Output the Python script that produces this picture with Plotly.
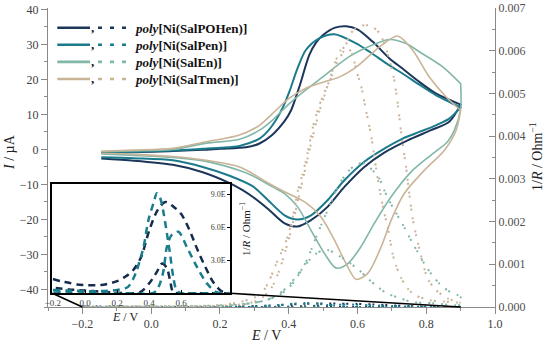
import plotly.graph_objects as go

# ---------------- data ----------------
# Cyclic voltammograms, I / µA  (anodic: E increasing, cathodic: E decreasing)
E_pohen_an = [-0.145, -0.05, 0.05, 0.15, 0.2, 0.276, 0.315, 0.35, 0.39, 0.407, 0.431, 0.46, 0.48, 0.5, 0.535, 0.567, 0.6, 0.644, 0.693, 0.731, 0.78, 0.828, 0.9]
I_pohen_an = [-1.0, -0.8, -0.5, -0.1, 0.2, 0.6, 1.7, 4.0, 8.4, 11.2, 17.9, 27.0, 30.6, 32.7, 34.8, 35.2, 34.3, 30.8, 26.0, 23.1, 19.3, 16.0, 12.8]
E_pohen_ca = [0.9, 0.867, 0.814, 0.746, 0.678, 0.62, 0.562, 0.513, 0.465, 0.426, 0.388, 0.34, 0.295, 0.266, 0.228, 0.15, 0.063, -0.05, -0.145]
I_pohen_ca = [12.8, 7.9, 5.5, 2.6, -0.9, -5.0, -10.7, -16.4, -20.2, -22.0, -21.1, -17.0, -13.5, -11.6, -9.6, -6.5, -4.4, -3.2, -2.6]

E_pen_an = [-0.145, -0.05, 0.063, 0.15, 0.2, 0.257, 0.315, 0.34, 0.363, 0.383, 0.402, 0.425, 0.45, 0.489, 0.533, 0.596, 0.635, 0.693, 0.731, 0.78, 0.828, 0.9]
I_pen_an = [-0.9, -0.7, -0.3, 0.2, 0.5, 1.0, 3.1, 5.3, 8.4, 12.0, 16.5, 23.0, 28.4, 31.7, 32.9, 30.3, 27.9, 24.0, 21.7, 18.5, 15.5, 12.0]
E_pen_ca = [0.9, 0.867, 0.828, 0.78, 0.731, 0.683, 0.62, 0.562, 0.513, 0.465, 0.426, 0.388, 0.34, 0.295, 0.228, 0.15, 0.063, -0.05, -0.145]
I_pen_ca = [12.0, 8.8, 6.9, 5.0, 3.1, 0.5, -3.5, -8.8, -14.5, -18.8, -20.0, -18.8, -14.5, -10.5, -7.5, -5.0, -3.1, -2.5, -2.2]

E_en_an = [-0.145, -0.05, 0.063, 0.16, 0.257, 0.315, 0.353, 0.402, 0.45, 0.499, 0.576, 0.644, 0.693, 0.74, 0.78, 0.848, 0.9]
I_en_an = [-0.6, -0.4, 0.0, 1.8, 2.9, 5.5, 8.4, 13.1, 17.0, 20.7, 26.5, 29.8, 31.4, 30.3, 27.9, 23.6, 18.8]
E_en_ca = [0.9, 0.9, 0.882, 0.862, 0.814, 0.756, 0.698, 0.649, 0.61, 0.572, 0.538, 0.504, 0.465, 0.426, 0.388, 0.353, 0.295, 0.257, 0.16, 0.063, -0.05, -0.145]
I_en_ca = [18.8, 11.5, 5.5, 2.2, -1.6, -6.4, -13.5, -21.1, -27.8, -32.6, -33.9, -29.7, -23.1, -16.4, -12.6, -10.7, -7.5, -6.0, -3.4, -2.3, -1.7, -1.3]

E_tmen_an = [-0.145, -0.05, 0.063, 0.16, 0.257, 0.315, 0.363, 0.4, 0.45, 0.5, 0.55, 0.6, 0.664, 0.717, 0.76, 0.809, 0.858, 0.9]
I_tmen_an = [-0.5, -0.2, 0.3, 2.2, 4.1, 6.9, 11.2, 14.5, 17.5, 19.2, 20.8, 23.8, 29.3, 32.4, 28.4, 20.7, 15.0, 11.2]
E_tmen_ca = [0.9, 0.887, 0.853, 0.795, 0.736, 0.698, 0.669, 0.63, 0.596, 0.567, 0.533, 0.494, 0.446, 0.388, 0.344, 0.295, 0.257, 0.16, 0.063, -0.05, -0.145]
I_tmen_ca = [11.2, 5.5, -0.2, -5.9, -12.6, -20.2, -27.8, -35.4, -37.1, -32.6, -25.9, -19.3, -15.0, -12.1, -9.8, -6.9, -5.0, -3.1, -2.0, -1.4, -1.1]

# In-situ conductance 1/R / Ohm^-1 (right axis), SalEn and SalTmen
E_tmen_g_f = [-0.2, 0.0, 0.2, 0.26, 0.3, 0.324, 0.344, 0.363, 0.38, 0.397, 0.411, 0.426, 0.44, 0.455, 0.47, 0.484, 0.5, 0.52, 0.54, 0.56, 0.58, 0.6, 0.625, 0.645, 0.665, 0.685, 0.705, 0.718, 0.73, 0.741, 0.75, 0.76, 0.77, 0.785, 0.804, 0.828, 0.862, 0.9]
G_tmen_g_f = [0.0, 0.00001, 0.00004, 0.00012, 0.00022, 0.00035, 0.00063, 0.001, 0.0013, 0.00165, 0.00207, 0.0027, 0.0031, 0.0036, 0.0042, 0.0046, 0.00495, 0.0053, 0.0057, 0.006, 0.0064, 0.00655, 0.0066, 0.00655, 0.0064, 0.006, 0.0054, 0.0047, 0.0039, 0.0033, 0.0027, 0.0021, 0.0017, 0.0012, 0.00067, 0.0004, 0.0002, 0.0001]
E_tmen_g_b = [0.9, 0.85, 0.81, 0.77, 0.746, 0.726, 0.711, 0.702, 0.695, 0.688, 0.678, 0.668, 0.655, 0.64, 0.625, 0.61, 0.598, 0.585, 0.57, 0.55, 0.53, 0.51, 0.49, 0.47, 0.45, 0.43, 0.41, 0.39, 0.37, 0.35, 0.32, 0.28, 0.2, 0.0, -0.2]
G_tmen_g_b = [0.0001, 0.00013, 0.00016, 0.00027, 0.00043, 0.0007, 0.001, 0.00125, 0.00156, 0.00187, 0.0022, 0.0026, 0.0032, 0.004, 0.0046, 0.0052, 0.0055, 0.0059, 0.0061, 0.006, 0.0056, 0.0051, 0.0046, 0.004, 0.0033, 0.0026, 0.0019, 0.0013, 0.0008, 0.00045, 0.0002, 0.00008, 0.00003, 0.00001, 0.0]

E_en_g_f = [-0.2, 0.0, 0.2, 0.3, 0.35, 0.38, 0.407, 0.431, 0.45, 0.465, 0.48, 0.494, 0.509, 0.525, 0.538, 0.557, 0.576, 0.598, 0.62, 0.644, 0.664, 0.678, 0.697, 0.716, 0.736, 0.756, 0.775, 0.794, 0.814, 0.838, 0.862, 0.9]
G_en_g_f = [0.0, 0.00001, 0.00004, 0.0001, 0.0002, 0.00032, 0.00051, 0.00078, 0.00105, 0.00133, 0.00164, 0.00191, 0.00219, 0.00248, 0.00273, 0.003, 0.0032, 0.00334, 0.00336, 0.0032, 0.003, 0.00273, 0.00242, 0.00215, 0.00187, 0.00156, 0.00129, 0.00102, 0.00078, 0.00055, 0.00039, 0.00023]
E_en_g_b = [0.9, 0.82, 0.756, 0.727, 0.688, 0.659, 0.63, 0.605, 0.578, 0.552, 0.53, 0.515, 0.5, 0.48, 0.46, 0.44, 0.42, 0.4, 0.37, 0.33, 0.25, 0.1, -0.2]
G_en_g_b = [0.00006, 0.00009, 0.00012, 0.0002, 0.00031, 0.00047, 0.00067, 0.00086, 0.00103, 0.00117, 0.00128, 0.00133, 0.00133, 0.00125, 0.0011, 0.0009, 0.0007, 0.0005, 0.0003, 0.00015, 0.00005, 0.00001, 0.0]

# Conductance of SalPOHen and SalPen (inset), in units of 1e-5 Ohm^-1
E_pohen_g_f = [-0.2, -0.15, -0.1, -0.05, 0.0, 0.1, 0.2, 0.25, 0.3, 0.35, 0.4, 0.45, 0.5, 0.55, 0.6, 0.65, 0.7, 0.75, 0.8, 0.85, 0.9]
G_pohen_g_f = [1.3, 1.1, 0.95, 0.8, 0.75, 0.75, 1.1, 1.5, 2.1, 3.3, 5.7, 7.5, 8.3, 7.9, 7.2, 5.8, 4.0, 2.4, 1.0, 0.2, 0.0]
E_pohen_g_b = [0.9, 0.8, 0.7, 0.6, 0.55, 0.53, 0.51, 0.48, 0.45, 0.42, 0.4, 0.37, 0.35, 0.3, 0.2, 0.1, 0.0, -0.1, -0.2]
G_pohen_g_b = [0.0, 0.0, 0.0, 0.0, 0.1, 1.2, 2.3, 2.7, 2.0, 1.3, 0.9, 0.4, 0.15, 0.0, 0.05, 0.15, 0.25, 0.35, 0.5]
E_pen_g_f = [-0.2, -0.1, 0.0, 0.1, 0.2, 0.25, 0.27, 0.3, 0.323, 0.35, 0.365, 0.396, 0.427, 0.448, 0.47, 0.49, 0.51, 0.53, 0.55, 0.57, 0.6, 0.7, 0.8, 0.9]
G_pen_g_f = [0.3, 0.25, 0.2, 0.2, 0.3, 0.45, 0.6, 1.3, 2.1, 3.4, 4.2, 6.7, 8.2, 9.1, 8.6, 7.3, 5.5, 3.6, 1.5, 0.3, 0.0, 0.0, 0.0, 0.0]
E_pen_g_b = [0.9, 0.82, 0.76, 0.698, 0.635, 0.583, 0.54, 0.51, 0.49, 0.47, 0.448, 0.42, 0.3, 0.2, 0.0, -0.2]
G_pen_g_b = [0.0, 0.1, 0.9, 2.4, 4.2, 5.6, 5.3, 4.2, 2.1, 1.0, 0.3, 0.0, 0.0, 0.0, 0.05, 0.1]

names = ["SalPOHen", "SalPen", "SalEn", "SalTmen"]
colors = ["#1c365a", "#1b7b8b", "#80b7a9", "#cab497"]

# axis settings
X_MAIN = [-0.3, 1.0]
Y_LEFT = [-45.0, 40.4]
Y_RIGHT = [0.0, 0.007]
X_INSET = [-0.204, 0.904]
Y_INSET = [0.0, 9.91e-5]
inset_ticks = [0.0, 3e-5, 6e-5, 9e-5]
inset_ticktext = ["0.0E", "3.0E", "6.0E", "9.0E"]

FONT = "Liberation Serif, Times New Roman, serif"
DOT = "2px,2px,2px,7px"
SCALE = 1e-5

# geometry (pixels)
W, H = 550, 345
ML, MR, MT, MB = 48, 55, 8, 38
PW, PH = W - ML - MR, H - MT - MB


def xp(px):
    return (px - ML) / PW


def yp(py):
    return (H - MB - py) / PH


fig = go.Figure()

# ---- dotted conductance in main plot (right axis) ----
cond_main = [
    (E_pohen_g_f + E_pohen_g_b, [g * SCALE for g in G_pohen_g_f + G_pohen_g_b], colors[0]),
    (E_pen_g_f + E_pen_g_b, [g * SCALE for g in G_pen_g_f + G_pen_g_b], colors[1]),
    (E_en_g_f + E_en_g_b, G_en_g_f + G_en_g_b, colors[2]),
    (E_tmen_g_f + E_tmen_g_b, G_tmen_g_f + G_tmen_g_b, colors[3]),
]
for ex, gy, c in cond_main:
    fig.add_trace(go.Scatter(x=ex, y=gy, mode="lines", xaxis="x", yaxis="y2",
                             line=dict(color=c, width=2, dash=DOT, shape="spline", smoothing=0.8),
                             showlegend=False, hoverinfo="skip"))

# ---- CV curves (left axis) ----
cv = [
    (E_pohen_an + E_pohen_ca, I_pohen_an + I_pohen_ca, colors[0], 2),
    (E_pen_an + E_pen_ca, I_pen_an + I_pen_ca, colors[1], 2),
    (E_en_an + E_en_ca, I_en_an + I_en_ca, colors[2], 1.6),
    (E_tmen_an + E_tmen_ca, I_tmen_an + I_tmen_ca, colors[3], 1.6),
]
for ex, iy, c, w in cv:
    fig.add_trace(go.Scatter(x=ex, y=iy, mode="lines", xaxis="x", yaxis="y",
                             line=dict(color=c, width=w, shape="spline", smoothing=0.8),
                             showlegend=False, hoverinfo="skip"))

# ---- inset ----
inset = [
    (E_pohen_g_f + E_pohen_g_b, [g * SCALE for g in G_pohen_g_f + G_pohen_g_b], "#152c4d"),
    (E_pen_g_f + E_pen_g_b, [g * SCALE for g in G_pen_g_f + G_pen_g_b], "#1b7d8b"),
]
for ex, gy, c in inset:
    fig.add_trace(go.Scatter(x=ex, y=gy, mode="lines", xaxis="x3", yaxis="y3",
                             line=dict(color=c, width=2.5, dash="7px,5px", shape="spline", smoothing=0.8),
                             showlegend=False, hoverinfo="skip"))

AX = "#8a8a8a"
TICKF = dict(family=FONT, size=12, color="#404040")

in_x0, in_x1 = xp(52.3), xp(230)
in_y0, in_y1 = yp(293.3), yp(184.3)

fig.update_layout(
    template="none",
    width=W, height=H,
    margin=dict(l=ML, r=MR, t=MT, b=MB, autoexpand=False),
    paper_bgcolor="white", plot_bgcolor="white",
    font=dict(family=FONT, color="#222"),
    showlegend=False,
    xaxis=dict(range=X_MAIN, domain=[0, 1], anchor="y", tick0=0, dtick=0.2, tickformat=".1f",
               ticks="outside", ticklen=6, tickcolor=AX, showline=True, linecolor=AX, linewidth=1,
               showgrid=False, zeroline=False, tickfont=TICKF, automargin=False,
               minor=dict(ticks="outside", ticklen=3, tickcolor=AX, dtick=0.1, tick0=0, showgrid=False)),
    yaxis=dict(range=Y_LEFT, domain=[0, 1], anchor="x", tick0=0, dtick=10,
               ticks="outside", ticklen=6, tickcolor=AX, showline=True, linecolor=AX, linewidth=1,
               showgrid=False, zeroline=False, tickfont=TICKF, automargin=False,
               minor=dict(ticks="outside", ticklen=3, tickcolor=AX, dtick=5, tick0=0, showgrid=False)),
    yaxis2=dict(range=Y_RIGHT, overlaying="y", side="right", anchor="x", tick0=0, dtick=0.001,
                tickformat=".3f", ticks="inside", ticklen=6, tickcolor=AX, showline=True,
                linecolor=AX, linewidth=1, showgrid=False, zeroline=False, automargin=False,
                tickfont=dict(family=FONT, size=12, color="#505050"),
                minor=dict(ticks="inside", ticklen=3, tickcolor=AX, dtick=0.0005, tick0=0, showgrid=False)),
    xaxis3=dict(range=X_INSET, domain=[in_x0, in_x1], anchor="y3",
                tickvals=[-0.2, 0.0, 0.2, 0.4, 0.6, 0.8], tickformat=".1f",
                ticks="inside", ticklen=3, tickcolor="black", showline=True, linecolor="black",
                linewidth=2, mirror=True, showgrid=False, zeroline=False, automargin=False,
                tickfont=dict(family=FONT, size=9, color="#404040")),
    yaxis3=dict(range=Y_INSET, domain=[in_y0, in_y1], anchor="x3", side="right",
                tickvals=inset_ticks, ticktext=inset_ticktext, ticks="inside", ticklen=3,
                tickcolor="black", ticklabelposition="inside", showline=True, linecolor="black",
                linewidth=2, mirror=True, showgrid=False, zeroline=False, automargin=False,
                tickfont=dict(family=FONT, size=8, color="#404040")),
)

shapes = []
# zoom connector lines from inset corners to main x axis
for e_main, x_in in ((-0.2, in_x0), (0.9, in_x1)):
    xm = (e_main - X_MAIN[0]) / (X_MAIN[1] - X_MAIN[0])
    shapes.append(dict(type="line", xref="paper", yref="paper", x0=x_in, y0=in_y0, x1=xm, y1=0,
                       line=dict(color="black", width=1.6), layer="above"))

annotations = []
# legend
for i, (n, c) in enumerate(zip(names, colors)):
    ry = 27.7 + 17.1 * i
    shapes.append(dict(type="line", xref="paper", yref="paper", x0=xp(57.3), x1=xp(90),
                       y0=yp(ry), y1=yp(ry), line=dict(color=c, width=2.6), layer="above"))
    shapes.append(dict(type="line", xref="paper", yref="paper", x0=xp(98), x1=xp(129),
                       y0=yp(ry), y1=yp(ry), line=dict(color=c, width=2.6, dash="4px,8px"), layer="above"))
    annotations.append(dict(xref="paper", yref="paper", x=xp(92.5), y=yp(ry), text="<b>,</b>",
                            showarrow=False, xanchor="center", yanchor="middle",
                            font=dict(family=FONT, size=13, color="#111")))
    annotations.append(dict(xref="paper", yref="paper", x=xp(133), y=yp(ry + 1),
                            text="<b><i>poly</i>[Ni(%s)]</b>" % n, showarrow=False,
                            xanchor="left", yanchor="middle",
                            font=dict(family=FONT, size=13, color="#111")))

# axis titles
annotations += [
    dict(xref="paper", yref="paper", x=xp(9), y=yp(152), text="<i>I</i> / µA", textangle=-90,
         showarrow=False, xanchor="center", yanchor="middle", font=dict(family=FONT, size=14, color="#222")),
    dict(xref="paper", yref="paper", x=xp(266), y=yp(335), text="<i>E</i> / V",
         showarrow=False, xanchor="center", yanchor="middle", font=dict(family=FONT, size=14, color="#222")),
    dict(xref="paper", yref="paper", x=xp(536), y=yp(157), text="1/<i>R</i> / Ohm<sup>−1</sup>",
         textangle=-90, showarrow=False, xanchor="center", yanchor="middle",
         font=dict(family=FONT, size=14, color="#222")),
    dict(xref="paper", yref="paper", x=xp(125), y=yp(317), text="<i>E</i> / V",
         showarrow=False, xanchor="center", yanchor="middle", font=dict(family=FONT, size=12, color="#222")),
    dict(xref="paper", yref="paper", x=xp(245), y=yp(229), text="1/<i>R</i> / Ohm<sup>−1</sup>",
         textangle=-90, showarrow=False, xanchor="center", yanchor="middle",
         font=dict(family=FONT, size=11, color="#222")),
]

fig.update_layout(shapes=shapes, annotations=annotations)

fig.write_html("out.html", config={"displayModeBar": False},
               post_script="document.body.style.margin='0';")
